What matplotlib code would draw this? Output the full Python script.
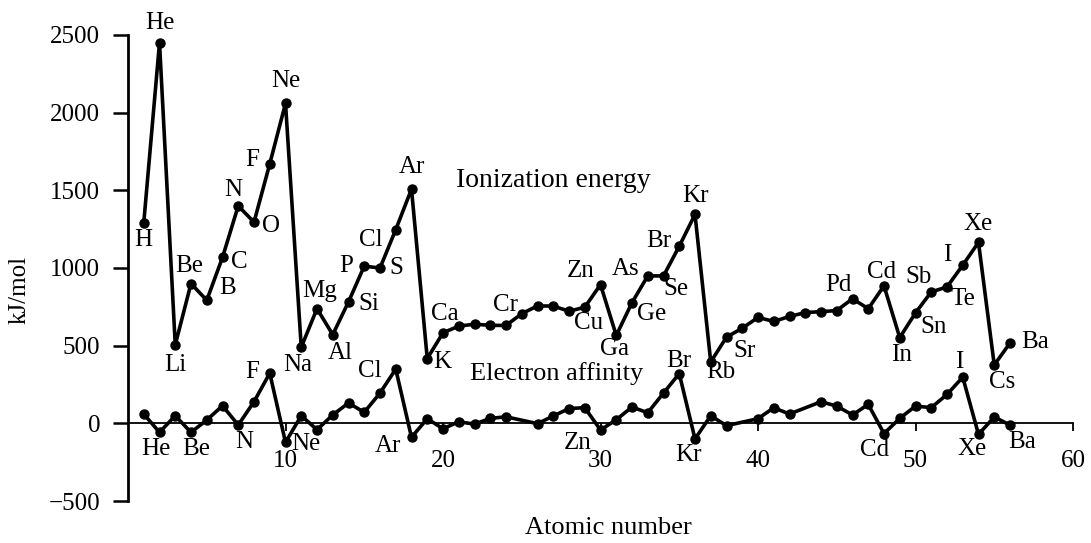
import matplotlib.pyplot as plt

pngfile = "out.png"

# elements 1..56
symbols = ["H", "He", "Li", "Be", "B", "C", "N", "O", "F", "Ne",
           "Na", "Mg", "Al", "Si", "P", "S", "Cl", "Ar", "K", "Ca",
           "Sc", "Ti", "V", "Cr", "Mn", "Fe", "Co", "Ni", "Cu", "Zn",
           "Ga", "Ge", "As", "Se", "Br", "Kr", "Rb", "Sr", "Y", "Zr",
           "Nb", "Mo", "Tc", "Ru", "Rh", "Pd", "Ag", "Cd", "In", "Sn",
           "Sb", "Te", "I", "Xe", "Cs", "Ba"]
atomic_numbers = list(range(1, 57))

# first ionization energy, kJ/mol
ion_energy = [1290, 2450, 505, 900, 792, 1068, 1400, 1295, 1670, 2060,
              490, 738, 571, 782, 1012, 1000, 1247, 1508, 417, 583,
              626, 638, 631, 630, 706, 756, 755, 722, 747, 893,
              566, 777, 949, 949, 1140, 1345, 395, 555, 612, 682,
              656, 688, 713, 719, 726, 802, 738, 885, 552, 711,
              846, 878, 1018, 1165, 376, 517]

# electron affinity, kJ/mol (Mn, Y and Tc have no point in the figure)
ea_numbers = [1, 2, 3, 4, 5, 6, 7, 8, 9, 10,
              11, 12, 13, 14, 15, 16, 17, 18, 19, 20,
              21, 22, 23, 24, 26, 27, 28, 29, 30,
              31, 32, 33, 34, 35, 36, 37, 38, 40,
              41, 42, 44, 45, 46, 47, 48, 49, 50,
              51, 52, 53, 54, 55, 56]
ea_values = [60, -58, 49, -58, 21, 113, -11, 139, 323, -122,
             49, -41, 54, 131, 71, 195, 349, -90, 30, -35,
             10, -5, 32, 42, -2, 47, 95, 101, -43,
             23, 105, 68, 195, 320, -100, 49, -15, 30,
             100, 60, 139, 111, 54, 122, -66, 32, 111,
             101, 186, 297, -71, 41, -11]

xticks = [10, 20, 30, 40, 50, 60]
yticks = [-500, 0, 500, 1000, 1500, 2000, 2500]

# which points get a symbol, and where it sits (pixels: right, up)
ion_labels = {"H": (0, -17), "He": (0, 20), "Li": (0, -20), "Be": (-2, 18),
              "B": (21, 12), "C": (17, -5), "N": (-5, 16), "O": (17, -4),
              "F": (-18, 4), "Ne": (0, 22), "Na": (-4, -18), "Mg": (3, 18),
              "Al": (8, -18), "Si": (20, -2), "P": (-18, 0), "S": (16, 0),
              "Cl": (-25, -10), "Ar": (0, 22), "K": (15, -3), "Ca": (2, 19),
              "Cr": (0, 20), "Zn": (-20, 14), "Cu": (4, -16), "Ga": (-2, -14),
              "Ge": (20, -11), "As": (-22, 7), "Se": (12, -13), "Br": (-20, 5),
              "Kr": (0, 18), "Rb": (10, -10), "Sr": (18, -14), "Pd": (-14, 14),
              "Cd": (-2, 14), "In": (2, -17), "Sn": (18, -14), "Sb": (-13, 15),
              "Te": (16, -12), "I": (-15, 10), "Xe": (0, 18), "Cs": (8, -17),
              "Ba": (25, 1)}
ea_labels = {"He": (-4, -17), "Be": (5, -17), "N": (6, -17), "F": (-18, 1),
             "Ne": (20, -2), "Cl": (-26, -2), "Ar": (-24, -9), "Zn": (-23, -13),
             "Br": (0, 13), "Kr": (-7, -16), "Cd": (-9, -16), "I": (-3, 15),
             "Xe": (-6, -15), "Ba": (12, -17)}

plt.rcParams['font.family'] = ['Liberation Serif', 'DejaVu Serif']
fs = 18
px = 0.72  # pixel -> points at dpi 100

fig = plt.figure(figsize=(10.91, 5.43), dpi=100)
ax = fig.add_axes([128/1091, 42/543, 945/1091, 466/543])

ax.plot(atomic_numbers, ion_energy, color="black", lw=2.6, marker="o",
        ms=6.5, clip_on=False, zorder=3)
ax.plot(ea_numbers, ea_values, color="black", lw=2.6, marker="o",
        ms=6.5, clip_on=False, zorder=3)

for sym, (dx, dy) in ion_labels.items():
    i = symbols.index(sym)
    ax.annotate(sym, (atomic_numbers[i], ion_energy[i]), xytext=(dx*px, dy*px),
                textcoords="offset points", ha="center", va="center",
                fontsize=fs, annotation_clip=False)
for sym, (dx, dy) in ea_labels.items():
    z = symbols.index(sym) + 1
    j = ea_numbers.index(z)
    ax.annotate(sym, (ea_numbers[j], ea_values[j]), xytext=(dx*px, dy*px),
                textcoords="offset points", ha="center", va="center",
                fontsize=fs, annotation_clip=False)

ax.text(27.0, 1565, "Ionization energy", ha="center", va="center", fontsize=fs + 2)
ax.text(27.2, 318, "Electron affinity", ha="center", va="center", fontsize=fs + 1)

ax.set_xlim(0, 60)
ax.set_ylim(-500, 2500)
ax.spines["top"].set_visible(False)
ax.spines["right"].set_visible(False)
ax.spines["bottom"].set_position(("data", 0))
ax.spines["bottom"].set_linewidth(1.3)
ax.spines["left"].set_linewidth(2.0)
ax.set_xticks(xticks)
ax.set_yticks(yticks)
ax.tick_params(axis="x", direction="out", length=6, width=1.3, pad=13, labelsize=fs)
ax.tick_params(axis="y", direction="out", length=11, width=1.8, pad=9, labelsize=fs)

fig.text(20/1091, 1 - 290/543, "kJ/mol", rotation=90, ha="center", va="center", fontsize=fs)
fig.text(608/1091, 1 - 528/543, "Atomic number", ha="center", va="center", fontsize=fs + 1)

plt.savefig(pngfile, dpi=100)
